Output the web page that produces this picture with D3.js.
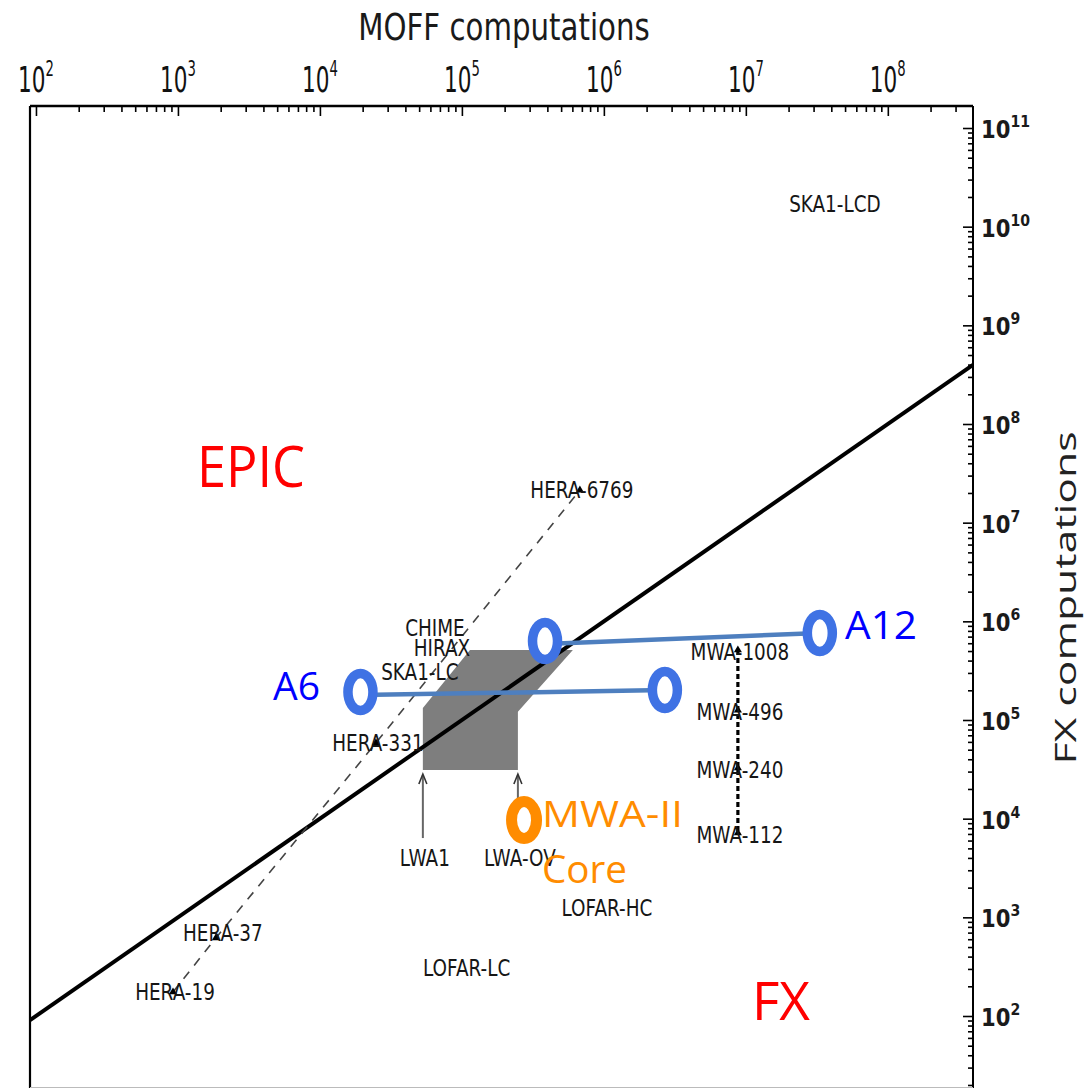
<!DOCTYPE html>
<html><head><meta charset="utf-8">
<script src="https://cdn.jsdelivr.net/npm/d3@7"></script>
<style>html,body{margin:0;padding:0;background:#fff;} svg{display:block}</style>
</head><body>
<svg id="chart" width="1086" height="1088"></svg>
<script>
// ---------------- data ----------------
const heraNames = ["HERA-19", "HERA-37", "HERA-331", "HERA-6769"];
const heraMoff  = [923, 1850, 24800, 678000];
const heraFx    = [175, 617, 58500, 21400000];

const mwaNames = ["MWA-1008", "MWA-496", "MWA-240", "MWA-112"];
const mwaMoff  = [8.79e6, 8.79e6, 8.79e6, 8.79e6];
const mwaFx    = [5.12e5, 1.26e5, 3.26e4, 7.16e3];

const otherNames = ["SKA1-LCD", "CHIME", "HIRAX", "SKA1-LC", "LOFAR-HC", "LOFAR-LC"];
const otherMoff  = [4.24e7, 6.46e4, 7.23e4, 5.06e4, 1.05e6, 1.08e5];
const otherFx    = [1.70e10, 8.55e5, 5.37e5, 3.06e5, 1.24e3, 306];

const lwaNames = ["LWA1", "LWA-OV"];
const lwaMoff  = [5.31e4, 2.48e5];
const lwaFx    = [3.11e4, 3.11e4];

const regionMoff = [5.31e4, 5.31e4, 1.14e5, 6.05e5, 2.48e5, 2.48e5];
const regionFx   = [3.11e4, 1.32e5, 5.12e5, 5.12e5, 1.21e5, 3.11e4];

const configNames = ["A6", "A12"];
const configMoff  = [[1.93e4, 2.69e6], [3.85e5, 3.32e7]];
const configFx    = [[1.92e5, 2.01e5], [6.31e5, 7.62e5]];

const coreLines = ["MWA-II", "Core"];
const coreMoff  = [2.74e5];
const coreFx    = [9.68e3];

const regionLabels = ["EPIC", "FX"];
const xTickExps = [2, 3, 4, 5, 6, 7, 8];
const yTickExps = [2, 3, 4, 5, 6, 7, 8, 9, 10, 11];
const xTitle = "MOFF computations";
const yTitle = "FX computations";

// ---------------- layout ----------------
const L = 30, R = 973, T = 106, B = 1087;
const svg = d3.select("#chart");
const x = d3.scaleLog().domain([Math.pow(10, 1.958), Math.pow(10, 8.6)]).range([L, R]);
const y = d3.scaleLog().domain([Math.pow(10, 1.2804), Math.pow(10, 11.223)]).range([B, T]);

svg.append("defs").append("clipPath").attr("id", "clip")
  .append("rect").attr("x", L).attr("y", T).attr("width", R - L).attr("height", B - T);

const plot = svg.append("g").attr("clip-path", "url(#clip)");

function sText(g, px, py, str, o) {
  const t = g.append("text")
    .attr("transform", `translate(${px},${py}) scale(${o.sx || 1},1)`)
    .attr("text-anchor", o.anchor || "middle")
    .attr("font-family", o.family || "DejaVu Sans")
    .attr("font-size", o.size)
    .attr("font-weight", o.weight || "normal")
    .attr("fill", o.fill || "#111")
    .text(str);
  return t;
}

// gray region
const poly = regionMoff.map((m, i) => [x(m), y(regionFx[i])]);
plot.append("path").attr("d", d3.line()(poly) + "Z").attr("fill", "#7e7e7e");

// equality line y = x
const eq = x.domain();
plot.append("line")
  .attr("x1", x(eq[0])).attr("y1", y(eq[0]))
  .attr("x2", x(eq[1])).attr("y2", y(eq[1]))
  .attr("stroke", "#000").attr("stroke-width", 4);

// HERA dashed line
plot.append("path")
  .attr("d", d3.line().x((d, i) => x(heraMoff[i])).y((d, i) => y(heraFx[i]))(heraNames))
  .attr("fill", "none").attr("stroke", "#444").attr("stroke-width", 1.6)
  .attr("stroke-dasharray", "9,8");

// MWA dotted line
plot.append("line")
  .attr("x1", x(mwaMoff[0])).attr("y1", y(mwaFx[0]))
  .attr("x2", x(mwaMoff[3])).attr("y2", y(mwaFx[3]))
  .attr("stroke", "#000").attr("stroke-width", 3.2).attr("stroke-dasharray", "5,3");

// LWA arrows
lwaNames.forEach((n, i) => {
  const px = x(lwaMoff[i]), py = y(lwaFx[i]);
  plot.append("line").attr("x1", px).attr("y1", py + 68).attr("x2", px).attr("y2", py + 5)
    .attr("stroke", "#666").attr("stroke-width", 2);
  plot.append("path").attr("d", `M${px - 4},${py + 14}L${px},${py + 4}L${px + 4},${py + 14}`)
    .attr("fill", "none").attr("stroke", "#333").attr("stroke-width", 1.6);
});

// markers
const tri = d3.symbol(d3.symbolTriangle).size(28);
heraNames.forEach((n, i) => {
  plot.append("path").attr("d", tri()).attr("transform", `translate(${x(heraMoff[i])},${y(heraFx[i])})`).attr("fill", "#000");
});
mwaNames.forEach((n, i) => {
  plot.append("path").attr("d", tri()).attr("transform", `translate(${x(mwaMoff[i])},${y(mwaFx[i])})`).attr("fill", "#000");
});

// labels
const labOpt = {size: 23, sx: 0.8, fill: "#161616"};
heraNames.forEach((n, i) => sText(plot, x(heraMoff[i]) + (i === 1 ? 7 : 2), y(heraFx[i]) + (i === 1 ? 3 : 8), n, labOpt));
mwaNames.forEach((n, i) => sText(plot, x(mwaMoff[i]) + 2, y(mwaFx[i]) + 10, n, labOpt));
otherNames.forEach((n, i) => sText(plot, x(otherMoff[i]), y(otherFx[i]) + 8, n, labOpt));
lwaNames.forEach((n, i) => sText(plot, x(lwaMoff[i]) + 2, y(lwaFx[i]) + 96, n, labOpt));

// configuration lines and ellipses
configNames.forEach((n, i) => {
  const x0 = x(configMoff[i][0]), y0 = y(configFx[i][0]);
  const x1 = x(configMoff[i][1]), y1 = y(configFx[i][1]);
  plot.append("line").attr("x1", x0).attr("y1", y0 + 3).attr("x2", x1).attr("y2", y1)
    .attr("stroke", "#4e7fbf").attr("stroke-width", 4.5);
  [[x0, y0], [x1, y1]].forEach(p => {
    plot.append("ellipse").attr("cx", p[0]).attr("cy", p[1]).attr("rx", 12.5).attr("ry", 18.5)
      .attr("fill", "#fff").attr("stroke", "#3f72e4").attr("stroke-width", 9.5);
  });
});
// MWA-II core
plot.append("ellipse").attr("cx", x(coreMoff[0])).attr("cy", y(coreFx[0])).attr("rx", 12.5).attr("ry", 18.5)
  .attr("fill", "#fff").attr("stroke", "#ff8c00").attr("stroke-width", 11);

// big overlay texts
const big = (px, py, str, size, fill, len) => {
  svg.append("text").attr("x", px).attr("y", py).attr("font-family", "Open Sans")
    .attr("font-size", size).attr("fill", fill)
    .attr("textLength", len).attr("lengthAdjust", "spacingAndGlyphs").text(str);
};
big(197, 487, regionLabels[0], 56, "#ff0000", 108);
big(752, 1020, regionLabels[1], 53, "#ff0000", 58);
big(273, 700, configNames[0], 39, "#0000ff", 47);
big(845, 639, configNames[1], 38, "#0000ff", 72);
big(542, 827, coreLines[0], 36, "#ff8c00", 141);
big(542, 883, coreLines[1], 39, "#ff8c00", 85);

// ---------------- axes ----------------
const minorX = [];
for (let k = 1; k <= 8; k++) for (let m = 2; m <= 9; m++) { const v = m * Math.pow(10, k); if (v > x.domain()[0] && v < x.domain()[1]) minorX.push(v); }
const minorY = [];
for (let k = 1; k <= 11; k++) for (let m = 2; m <= 9; m++) { const v = m * Math.pow(10, k); if (v > y.domain()[0] && v < y.domain()[1]) minorY.push(v); }

function styleAxis(g) {
  g.select(".domain").remove();
  g.selectAll(".tick line").attr("stroke", "#000").attr("stroke-width", 1.6);
  g.selectAll(".tick text").remove();
}
svg.append("g").attr("transform", `translate(0,${T})`)
  .call(d3.axisTop(x).tickValues(minorX).tickSize(-6).tickFormat("")).call(styleAxis);
svg.append("g").attr("transform", `translate(0,${T})`)
  .call(d3.axisTop(x).tickValues(xTickExps.map(e => Math.pow(10, e))).tickSize(-10).tickFormat("")).call(styleAxis);
svg.append("g").attr("transform", `translate(${R},0)`)
  .call(d3.axisRight(y).tickValues(minorY).tickSize(-5).tickFormat("")).call(styleAxis);
svg.append("g").attr("transform", `translate(${R},0)`)
  .call(d3.axisRight(y).tickValues(yTickExps.map(e => Math.pow(10, e))).tickSize(-10).tickFormat("")).call(styleAxis);

// frame
svg.append("line").attr("x1", L).attr("x2", R).attr("y1", T).attr("y2", T).attr("stroke", "#000").attr("stroke-width", 2.5);
svg.append("line").attr("x1", L).attr("x2", L).attr("y1", T).attr("y2", B + 2).attr("stroke", "#000").attr("stroke-width", 2.2);
svg.append("line").attr("x1", R).attr("x2", R).attr("y1", T).attr("y2", B + 2).attr("stroke", "#000").attr("stroke-width", 2);
svg.append("line").attr("x1", L).attr("x2", R).attr("y1", B + 0.5).attr("y2", B + 0.5).attr("stroke", "#bbb").attr("stroke-width", 1);

// top tick labels
xTickExps.forEach(e => {
  const t = sText(svg, x(Math.pow(10, e)), 92, "10", {size: 36, sx: 0.6, fill: "#111"});
  t.append("tspan").attr("dy", -16).attr("font-size", 22).text(String(e));
});
// right tick labels
yTickExps.forEach(e => {
  const t = sText(svg, 981, y(Math.pow(10, e)) + 10, "10", {size: 24, sx: 0.88, anchor: "start", weight: "bold", fill: "#1a1a1a"});
  t.append("tspan").attr("dy", -11).attr("font-size", 16).text(String(e));
});

// titles
sText(svg, 504, 40, xTitle, {size: 38, sx: 0.77, fill: "#1a1a1a"});
svg.append("text").attr("transform", "translate(1076,598) rotate(-90)")
  .attr("text-anchor", "middle").attr("font-family", "Open Sans").attr("font-size", 30)
  .attr("fill", "#222").attr("textLength", 333).attr("lengthAdjust", "spacingAndGlyphs").text(yTitle);
</script>
</body></html>
